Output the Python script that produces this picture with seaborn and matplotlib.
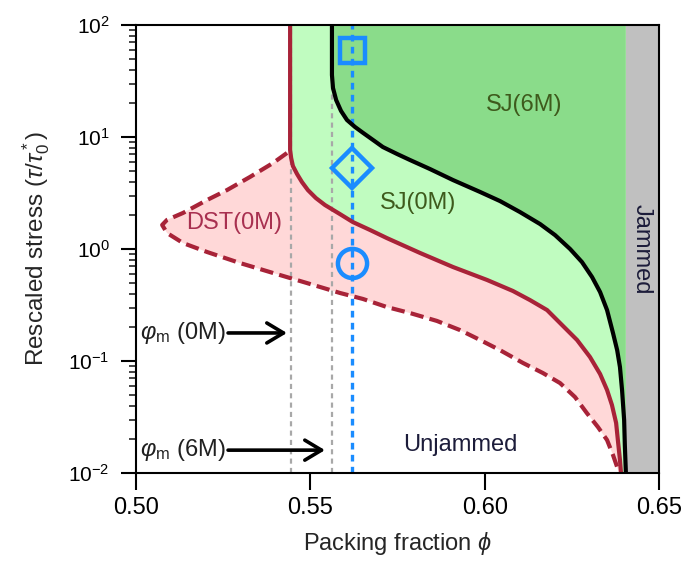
import numpy as np
import pandas as pd
import matplotlib
matplotlib.use("Agg")
import matplotlib.pyplot as plt
import seaborn as sns

# ---------------- data ----------------
# SJ(6M) boundary (black)
black_phi = [0.5562, 0.5562, 0.5565, 0.5574, 0.5588, 0.5605, 0.5628, 0.5651, 0.5680, 0.5708,
             0.5749, 0.5786, 0.5843, 0.5909, 0.5987, 0.6044, 0.6101, 0.6159, 0.6202, 0.6245,
             0.6279, 0.6308, 0.6331, 0.6351, 0.6368, 0.6380, 0.6388, 0.6394, 0.6400, 0.6402, 0.6405]
black_tau = [100, 35.8, 27.4, 21.4, 17.1, 14.2, 12.3, 10.9, 9.40, 8.14,
             7.05, 6.23, 5.18, 4.13, 3.23, 2.68, 2.14, 1.67, 1.33, 1.00,
             0.765, 0.562, 0.413, 0.285, 0.178, 0.125, 0.0884, 0.0551, 0.0297, 0.0178, 0.01]

# SJ(0M) boundary (red, solid)
red_phi = [0.5442, 0.5442, 0.5445, 0.5450, 0.5462, 0.5476, 0.5493, 0.5516, 0.5542, 0.5585,
           0.5622, 0.5671, 0.5720, 0.5815, 0.5909, 0.6007, 0.6081, 0.6130, 0.6179, 0.6225,
           0.6265, 0.6302, 0.6331, 0.6351, 0.6365, 0.6377, 0.6382, 0.6388, 0.6391]
red_tau = [100, 7.66, 6.49, 5.51, 4.67, 3.96, 3.36, 2.85, 2.47, 2.05,
           1.74, 1.48, 1.25, 0.921, 0.691, 0.529, 0.422, 0.350, 0.285, 0.205,
           0.154, 0.1086, 0.0766, 0.0551, 0.0405, 0.0280, 0.0197, 0.0131, 0.01]

# DST(0M) lower boundary (red, dashed)
dst_phi = [0.5433, 0.5393, 0.5327, 0.5261, 0.5204, 0.5135, 0.5089, 0.5075, 0.5089, 0.5135,
           0.5204, 0.5298, 0.5393, 0.5490, 0.5585, 0.5651, 0.5720, 0.5786, 0.5863, 0.5929,
           0.5987, 0.6044, 0.6110, 0.6167, 0.6216, 0.6259, 0.6293, 0.6325, 0.6351, 0.6368,
           0.6380, 0.6385]
dst_tau = [7.20, 5.86, 4.40, 3.36, 2.74, 2.10, 1.82, 1.64, 1.39, 1.13,
           0.940, 0.750, 0.611, 0.497, 0.405, 0.358, 0.303, 0.268, 0.228, 0.189,
           0.154, 0.125, 0.0960, 0.0781, 0.0636, 0.0477, 0.0343, 0.0257, 0.0197, 0.0145,
           0.0113, 0.01]

phi_J = 0.6405
phi_m_0M = 0.5445
phi_m_6M = 0.5562
phi_exp = 0.5620
marker_tau = [60, 5.3, 0.75]
marker_shapes = ["s", "D", "o"]
x_ticks = [0.50, 0.55, 0.60, 0.65]
x_ticklabels = ["0.50", "0.55", "0.60", "0.65"]

# ---------------- style ----------------
sns.set_theme(style="ticks")
plt.rcParams["font.family"] = ["Liberation Sans", "DejaVu Sans"]
plt.rcParams["mathtext.fontset"] = "custom"
plt.rcParams["mathtext.rm"] = "Liberation Sans"
plt.rcParams["mathtext.it"] = "Liberation Sans:italic"
plt.rcParams["mathtext.fallback"] = "stixsans"

FS = 17
C_RED = "#a82338"
C_PINK = "#ffd8d8"
C_LGREEN = "#c0fcc0"
C_DGREEN = "#8adc8a"
C_GRAY = "#c0c0c0"
C_BLUE = "#1a8cff"

fig = plt.figure(figsize=(6.81, 5.66), dpi=100)
ax = fig.add_axes([0.1997, 0.1643, 0.7680, 0.7915])
ax.set_yscale("log")
ax.set_xlim(0.5, 0.65)
ax.set_ylim(0.01, 100)

# ---------------- fills ----------------
ax.axvspan(phi_J, 0.65, color=C_GRAY, lw=0, zorder=1)
ax.fill(black_phi + [phi_J, phi_J], black_tau + [0.01, 100], color=C_DGREEN, lw=0, zorder=1)
ax.fill(red_phi + black_phi[::-1], red_tau + black_tau[::-1], color=C_LGREEN, lw=0, zorder=1)
ax.fill(dst_phi + red_phi[::-1][:-1], dst_tau + red_tau[::-1][:-1], color=C_PINK, lw=0, zorder=1)

# ---------------- guide lines ----------------
for xv in (phi_m_0M, phi_m_6M):
    ax.axvline(xv, color="#a8a8a8", lw=1.6, linestyle=(0, (2.3, 1.9)), zorder=2)
ax.axvline(phi_exp, color=C_BLUE, lw=2.4, linestyle=(0, (2.0, 1.6)), zorder=2)

# ---------------- curves ----------------
sns.lineplot(x=dst_phi, y=dst_tau, sort=False, estimator=None, ax=ax, color=C_RED,
             lw=3, linestyle=(0, (3.2, 1.5)), zorder=3)
sns.lineplot(x=red_phi, y=red_tau, sort=False, estimator=None, ax=ax, color=C_RED,
             lw=3, zorder=3)
sns.lineplot(x=black_phi, y=black_tau, sort=False, estimator=None, ax=ax, color="black",
             lw=3, zorder=3)

# ---------------- markers ----------------
msizes = {"s": 18, "D": 20, "o": 21}
for t, m in zip(marker_tau, marker_shapes):
    ax.plot([phi_exp], [t], marker=m, ms=msizes[m], mfc="none", mec=C_BLUE, mew=3.2,
            ls="none", zorder=4)

# ---------------- texts ----------------
ax.text(0.6113, 19.3, "SJ(6M)", fontsize=FS, color="#3e5a1c", ha="center", va="center", zorder=5)
ax.text(0.5809, 2.58, "SJ(0M)", fontsize=FS, color="#3e5a1c", ha="center", va="center", zorder=5)
ax.text(0.5281, 1.71, "DST(0M)", fontsize=FS, color="#a83050", ha="center", va="center", zorder=5)
ax.text(0.5929, 0.0178, "Unjammed", fontsize=FS, color="#1c1c3a", ha="center", va="center", zorder=5)
ax.text(0.6451, 1.0, "Jammed", fontsize=FS, color="#1c1c3a", ha="center", va="center",
        rotation=-90, zorder=5)

for y, lab, xend in ((0.178, r"$\varphi_{\rm m}$ (0M)", 0.5433), (0.016, r"$\varphi_{\rm m}$ (6M)", 0.5542)):
    ax.text(0.5012, y, lab, fontsize=FS, color="#202020", ha="left", va="center", zorder=5)
    ax.annotate("", xy=(xend, y), xytext=(0.5264, y),
                arrowprops=dict(arrowstyle="->,head_length=0.6,head_width=0.36", lw=2.6,
                                color="black", shrinkA=0, shrinkB=0, mutation_scale=20),
                zorder=5)

# ---------------- axes ----------------
ax.set_xticks(x_ticks)
ax.set_xticklabels(x_ticklabels)
ax.set_xlabel(r"Packing fraction $\phi$", fontsize=FS, labelpad=8)
ax.set_ylabel(r"Rescaled stress ($\tau/\tau_0^*$)", fontsize=17.5, labelpad=12)
ax.tick_params(axis="x", which="major", direction="out", length=12, width=1.5,
               labelsize=FS, pad=5, top=False, colors="black")
ax.tick_params(axis="y", which="major", direction="out", length=11, width=1.5,
               labelsize=15, pad=8, right=False, colors="black")
ax.tick_params(axis="y", which="minor", direction="out", length=5, width=1.2, left=True, right=False)
for s in ax.spines.values():
    s.set_linewidth(1.5)
    s.set_color("black")
    s.set_zorder(6)

fig.savefig("out.png", dpi=100)
